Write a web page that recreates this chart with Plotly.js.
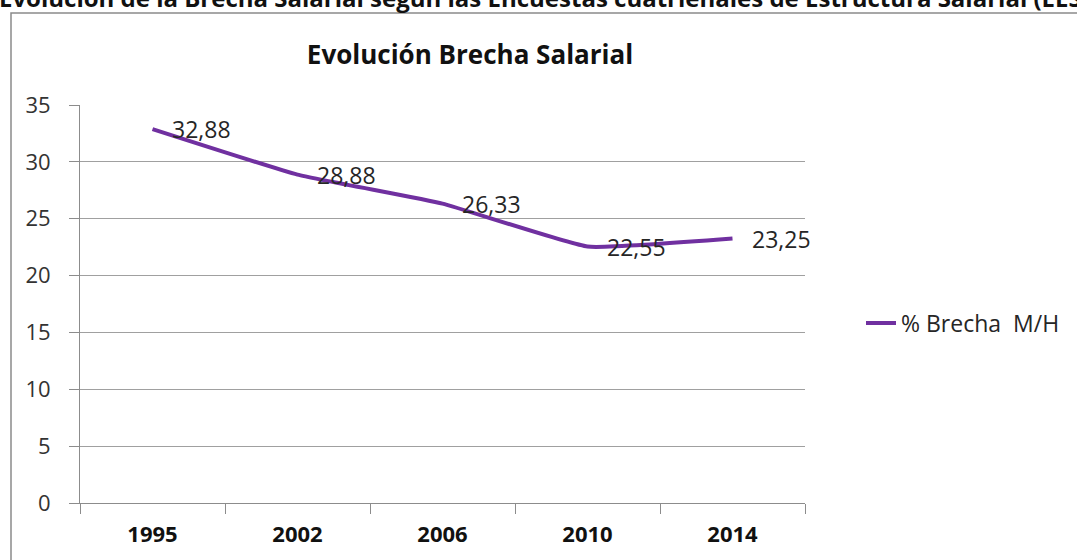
<!DOCTYPE html>
<html>
<head>
<meta charset="utf-8">
<script src="https://cdn.plot.ly/plotly-3.0.1.min.js"></script>
<style>
html,body{margin:0;padding:0;overflow:hidden;background:#fff;}
#chart{width:1077px;height:560px;}
</style>
</head>
<body>
<div id="chart"></div>
<script>
// Data
const years = ["1995", "2002", "2006", "2010", "2014"];
const brecha = [32.88, 28.88, 26.33, 22.55, 23.25];
const seriesName = "% Brecha  M/H";
const chartTitle = "Evolución Brecha Salarial";
const headerText = "Evolución de la Brecha Salarial según las Encuestas cuatrienales de Estructura Salarial (EES)";
const yTicks = [0, 5, 10, 15, 20, 25, 30, 35];

const FONT = "'Open Sans', 'Noto Sans', sans-serif";
const W = 1077, H = 560;
const L = 80, R = 805, T = 105, B = 503;
const px = x => (x - L) / (R - L);
const py = y => (B - y) / (B - T);

const trace = {
  type: 'scatter',
  mode: 'lines',
  x: years,
  y: brecha,
  name: seriesName,
  line: {color: '#7030a0', width: 4, shape: 'spline', smoothing: 0.35},
  hoverinfo: 'x+y'
};

// category axis: annotation x uses the category serial number
const labelAnnotations = years.map((yr, i) => ({
  x: i, y: brecha[i], xref: 'x', yref: 'y',
  text: brecha[i].toFixed(2).replace('.', ','),
  showarrow: false, xanchor: 'left', yanchor: 'middle',
  xshift: 17, yshift: 0,
  font: {family: FONT, size: 23, color: '#262626'}
}));

const layout = {
  width: W, height: H,
  margin: {l: L, r: W - R, t: T, b: H - B, pad: 0},
  paper_bgcolor: '#ffffff',
  plot_bgcolor: '#ffffff',
  showlegend: true,
  title: {
    text: chartTitle,
    x: 470 / W, xref: 'container', xanchor: 'center',
    y: 1 - 55 / H, yref: 'container', yanchor: 'middle',
    font: {family: FONT, size: 26, color: '#111111', weight: 'bold'}
  },
  xaxis: {
    type: 'category',
    range: [-0.5, years.length - 0.5],
    autorange: false,
    tickson: 'boundaries',
    ticks: 'outside', ticklen: 10, tickcolor: '#8c8c8c', tickwidth: 1,
    showline: true, linecolor: '#8c8c8c', linewidth: 1,
    showgrid: false, zeroline: false,
    tickangle: 0,
    ticklabelstandoff: 12,
    tickfont: {family: FONT, size: 22, color: '#111111', weight: 'bold'},
    fixedrange: true
  },
  yaxis: {
    range: [0, 35],
    autorange: false,
    tickvals: yTicks,
    ticks: 'outside', ticklen: 10, tickcolor: '#8c8c8c', tickwidth: 1,
    showline: true, linecolor: '#8c8c8c', linewidth: 1,
    showgrid: true, gridcolor: '#a0a0a0', gridwidth: 1,
    zeroline: false,
    ticklabelstandoff: 14,
    tickfont: {family: FONT, size: 22, color: '#333333'},
    fixedrange: true
  },
  legend: {
    x: px(861), xref: 'paper', xanchor: 'left',
    y: py(323), yref: 'paper', yanchor: 'middle',
    bgcolor: 'rgba(0,0,0,0)', borderwidth: 0,
    font: {family: FONT, size: 23, color: '#262626'}
  },
  shapes: [{
    type: 'rect', xref: 'paper', yref: 'paper',
    x0: px(11), y0: py(13), x1: px(1200), y1: py(700),
    line: {color: '#8a8a8a', width: 1.5}, fillcolor: 'rgba(0,0,0,0)', layer: 'below'
  }],
  annotations: [{
    x: px(-3), y: py(-2), xref: 'paper', yref: 'paper',
    text: headerText, showarrow: false, xanchor: 'left', yanchor: 'middle',
    font: {family: FONT, size: 24, color: '#111111', weight: 'bold'}
  }].concat(labelAnnotations)
};

Plotly.newPlot('chart', [trace], layout, {displayModeBar: false, staticPlot: true});
</script>
</body>
</html>
